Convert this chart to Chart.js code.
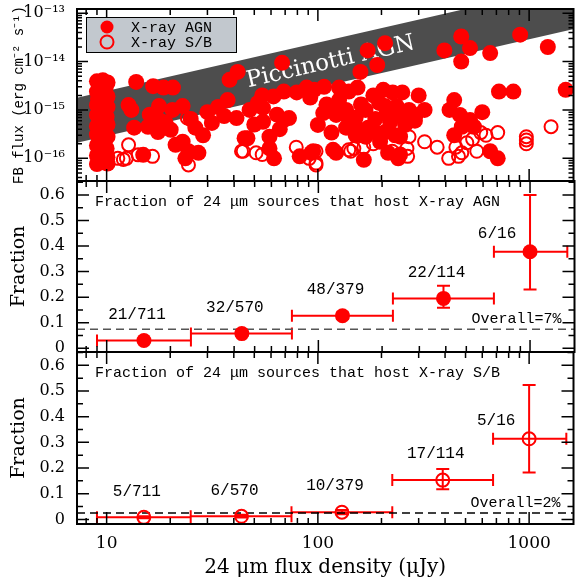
<!DOCTYPE html>
<html>
<head>
<meta charset="utf-8">
<script src="https://cdn.jsdelivr.net/npm/chart.js@4.4.0/dist/chart.umd.min.js"></script>
<style>
  html, body { margin: 0; padding: 0; background: #fff; }
  #wrap { position: relative; width: 582px; height: 585px; overflow: hidden; }
  #wrap canvas { position: absolute; left: 0; }
</style>
</head>
<body>
<div id="wrap">
  <canvas id="fluxChart" width="582" height="190" style="top:0"></canvas>
  <canvas id="agnChart" width="582" height="190" style="top:172px"></canvas>
  <canvas id="sbChart" width="582" height="242" style="top:343px"></canvas>
</div>
<script>
// axes
const xMin = 7.24, xMax = 1622;
const xTicks = [10, 100, 1000];
const xTickLabels = ['10', '100', '1000'];
const fluxMin = 3.4e-17, fluxMax = 1.22e-13;
const fluxTicks = [1e-16, 1e-15, 1e-14, 1e-13];
const fluxTickLabels = ['10\u207B\u00B9\u2076', '10\u207B\u00B9\u2075', '10\u207B\u00B9\u2074', '10\u207B\u00B9\u00B3'];
const fracTicks = [0, 0.1, 0.2, 0.3, 0.4, 0.5, 0.6];
const fracTickLabels = ['0', '0.1', '0.2', '0.3', '0.4', '0.5', '0.6'];

// 24um flux density (uJy) vs full band X-ray flux
const agnS24 = [
  9.0, 9.6, 10.1, 9.2, 9.9, 9.0, 9.7, 10.1, 9.1, 9.9, 9.0, 10.1, 9.4, 9.0, 10.0, 9.3,
  10.1, 9.0, 9.7, 9.0, 10.1, 9.3, 9.0, 10.0, 9.5, 9.0, 10.1, 9.2, 9.8, 9.0, 10.1, 9.5,
  13.8, 16.6, 18.6, 20.6, 12.7, 13.1, 17.7, 20.5, 22.9, 13.5, 15.7, 17.7, 17.5, 20.1,
  21.2, 22.9, 24.4, 23.6, 27.2, 26.3, 28.6, 31.5, 14.9, 38.2, 41.7, 33.7, 37.4, 41.2, 45,
  67.7, 54.5, 61.6, 69, 79.4, 88.4, 96, 107, 126, 140, 154, 183, 204, 226, 251,
  159, 191, 172, 208, 397, 477, 525, 477, 654, 907, 1226, 720, 842, 1490,
  300, 320, 270, 290, 442, 420, 470, 525, 600, 548, 480, 442, 654, 710,
  73, 106, 122, 116, 136, 151, 173, 215, 259, 208, 168, 122, 165, 82, 95, 215, 240,
  62, 59, 93, 118, 46.4, 55, 55, 59, 69, 143, 220, 197, 245, 245, 212, 47.5,
  126, 160, 110, 92, 195, 236, 140,
  110, 122, 136, 151, 168, 187, 208, 232, 259, 288, 100, 187, 232, 151,
  52, 64, 50, 66, 30, 36, 16, 19, 25
];
const agnFB = [
  3.9e-15, 4.1e-15, 3.7e-15, 3.1e-15, 2.9e-15, 2.4e-15, 2.2e-15, 1.9e-15, 1.7e-15, 1.5e-15, 1.25e-15, 1.15e-15, 9.5e-16, 7.8e-16, 7.2e-16, 5.9e-16,
  5.0e-16, 4.6e-16, 3.8e-16, 3.1e-16, 2.8e-16, 2.3e-16, 1.85e-16, 1.6e-16, 1.35e-16, 1.15e-16, 1.05e-16, 9.0e-17, 8.2e-17, 7.6e-17, 7.8e-17, 8.8e-17,
  3.8e-15, 3.1e-15, 2.9e-15, 2.9e-15, 1.26e-15, 1.0e-15, 1.2e-15, 1.0e-15, 1.2e-15, 4.3e-16, 4.5e-16, 6.2e-16, 3.5e-16, 3.9e-16,
  1.9e-16, 2.2e-16, 1.4e-16, 1.0e-16, 1.3e-16, 4.3e-16, 3.0e-16, 5.4e-16, 1.18e-16, 4.2e-15, 6.1e-15, 1.15e-15, 1.6e-15, 6.8e-16, 2.6e-16,
  9.4e-15, 2.0e-15, 1.9e-15, 2.4e-15, 2.3e-15, 2.9e-15, 2.6e-15, 3.0e-15, 2.9e-15, 2.4e-15, 2.9e-15, 2.0e-15, 2.6e-15, 2.3e-15, 2.3e-15,
  6.1e-15, 8.5e-15, 1.7e-14, 2.4e-14, 1.7e-14, 3.3e-14, 1.9e-14, 1.0e-14, 1.5e-14, 3.6e-14, 2.0e-14, 2.4e-15, 2.4e-15, 2.6e-15,
  2.0e-15, 1.0e-15, 1.0e-15, 7.9e-16, 1.6e-15, 1.0e-15, 7.9e-16, 6.2e-16, 9.0e-16, 4.5e-16, 4.5e-16, 3.0e-16, 1.4e-16, 1.0e-16,
  6.8e-16, 8.6e-16, 1.0e-15, 3.4e-16, 4.3e-16, 4.5e-16, 4.3e-16, 8.6e-16, 7.3e-16, 3.5e-16, 2.8e-16, 1.3e-16, 9.3e-17, 1.1e-16, 1.4e-16, 1.3e-16, 1.0e-16,
  1.0e-16, 1.6e-16, 1.3e-16, 1.5e-16, 2.6e-16, 5.7e-16, 1.1e-15, 2.8e-16, 6.2e-16, 4.9e-16, 5.6e-16, 2.2e-16, 1.2e-16, 2.8e-16, 9.0e-16, 1.0e-15,
  1.6e-15, 1.3e-15, 1.3e-15, 1.8e-15, 1.4e-15, 1.2e-15, 6.5e-16,
  1.26e-15, 7.9e-16, 1.0e-15, 7.0e-16, 1.0e-15, 6.5e-16, 1.2e-15, 7.9e-16, 4.9e-16, 6.0e-16, 4.9e-16, 3.5e-16, 3.0e-16, 3.0e-16,
  1.4e-15, 8.0e-16, 5.0e-16, 4.0e-16, 9.0e-16, 7.5e-16, 8.0e-16, 5.5e-16, 6.5e-16
];
const sbS24 = [
  12.7, 12.4, 12.0, 14.1, 24.1, 43.5, 24.4, 79, 98, 140, 270, 320, 367, 416, 463, 507,
  590, 625, 710, 970, 970, 970, 1270, 165, 266, 450, 565, 44.3, 54.5, 98, 98, 148,
  183, 51, 91, 143, 225, 264, 540, 480, 11.3, 16.5
];
const sbFB = [
  1.9e-16, 1.0e-16, 9.5e-17, 1.18e-16, 6.8e-16, 1.4e-16, 7.3e-17, 1.7e-16, 7.3e-17, 1.5e-16, 2.8e-16, 2.2e-16, 1.7e-16, 1.0e-16, 1.1e-16, 2.1e-16,
  3.4e-16, 3.0e-16, 3.4e-16, 2.8e-16, 2.4e-16, 2.0e-16, 4.5e-16, 1.7e-16, 1.1e-16, 1.7e-16, 1.4e-16, 1.4e-16, 1.2e-16, 1.4e-16, 8.0e-17, 1.6e-16,
  2.0e-16, 1.3e-16, 1.0e-16, 1.4e-16, 1.4e-16, 1.6e-16, 2.5e-16, 1.3e-16, 1.0e-16, 1.1e-16
];

// Piccinotti AGN locus: upper and lower edges
const bandS24 = [7, 1700];
const bandUpper = [1.72e-15, 4.17e-13];
const bandLower = [2.02e-16, 4.9e-14];

// binned fractions
const binMid = [15, 43.5, 130, 390, 1000];
const binLo = [9, 25, 75, 225, 675];
const binHi = [25, 75, 225, 675, 1500];
const agnFrac = [0.03, 0.057, 0.127, 0.195, 0.378];
const agnLo = [0.023, 0.048, 0.115, 0.158, 0.23];
const agnHi = [0.037, 0.066, 0.14, 0.245, 0.6];
const agnCounts = ['21/711', '32/570', '48/379', '22/114', '6/16'];
const agnOverall = 0.074;
const sbFrac = [0.008, 0.012, 0.028, 0.153, 0.314];
const sbLo = [0.004, 0.007, 0.02, 0.117, 0.183];
const sbHi = [0.012, 0.018, 0.037, 0.196, 0.523];
const sbCounts = ['5/711', '6/570', '10/379', '17/114', '5/16'];
const sbOverall = 0.025;

const red = '#ff0000';
const serif = 'DejaVu Serif';
const mono = 'Liberation Mono';

const pts = (xs, ys) => xs.map((x, i) => ({ x: x, y: ys[i] }));

function xAxis(height, labels) {
  const axis = {
    type: 'logarithmic', min: xMin, max: xMax,
    grid: { display: false, drawTicks: false },
    border: { display: false },
    afterBuildTicks: s => { s.ticks = xTicks.map(v => ({ value: v })); },
    ticks: {
      display: labels, autoSkip: false, maxRotation: 0, padding: 9, color: '#000',
      font: { family: serif, size: 17 },
      callback: (v, i) => xTickLabels[i]
    },
    afterFit: s => { s.height = height; s.paddingLeft = 0; s.paddingRight = 0; }
  };
  if (labels) {
    axis.title = {
      display: true, text: '24 \u03BCm flux density (\u03BCJy)', color: '#000',
      font: { family: serif, size: 20 }, padding: { top: 0, bottom: 5 }
    };
  }
  return axis;
}

function yAxis(opts, ticks, labels, title, titleFont, titlePad) {
  return Object.assign({
    grid: { display: false, drawTicks: false },
    border: { display: false },
    afterBuildTicks: s => { s.ticks = ticks.map(v => ({ value: v })); },
    ticks: {
      autoSkip: false, padding: 12, color: '#000',
      font: { family: serif, size: 16 },
      callback: (v, i) => labels[i]
    },
    title: { display: true, text: title, color: '#000', font: titleFont, padding: { top: titlePad, bottom: 0 } },
    afterFit: s => { s.width = 77; s.paddingTop = 0; s.paddingBottom = 0; }
  }, opts);
}

// box with inward ticks on all four sides
function frameTicks(yMarks) {
  return {
    id: 'frameTicks',
    afterDraw(chart) {
      const { ctx, chartArea: a, scales: { x, y } } = chart;
      ctx.save();
      ctx.strokeStyle = '#000';
      ctx.lineWidth = 1.5;
      ctx.beginPath();
      for (const d of [1, 10, 100, 1000]) {
        for (let m = 1; m <= 9; m++) {
          const v = d * m;
          if (v < x.min || v > x.max) continue;
          const px = x.getPixelForValue(v);
          const len = m === 1 ? 12 : 6;
          ctx.moveTo(px, a.bottom); ctx.lineTo(px, a.bottom - len);
          ctx.moveTo(px, a.top); ctx.lineTo(px, a.top + len);
        }
      }
      yMarks.forEach(([v, len]) => {
        if (v < y.min || v > y.max) return;
        const py = y.getPixelForValue(v);
        ctx.moveTo(a.left, py); ctx.lineTo(a.left + len, py);
        ctx.moveTo(a.right, py); ctx.lineTo(a.right - len, py);
      });
      ctx.stroke();
      ctx.lineWidth = 2;
      ctx.strokeRect(a.left, a.top, a.width, a.height);
      ctx.restore();
    }
  };
}

const fluxMarks = [];
[1e-17, 1e-16, 1e-15, 1e-14, 1e-13].forEach(d => {
  for (let m = 1; m <= 9; m++) fluxMarks.push([d * m, m === 1 ? 11 : 5]);
});
const fracMarks = [];
for (let i = 0; i <= 13; i++) fracMarks.push([i * 0.05, i % 2 === 0 ? 12 : 6]);

// label along the Piccinotti band
const bandLabel = {
  id: 'bandLabel',
  beforeDatasetsDraw(chart) {
    const { ctx, scales: { x, y } } = chart;
    const mid = i => Math.sqrt(bandUpper[i] * bandLower[i]);
    const x0 = x.getPixelForValue(bandS24[0]), y0 = y.getPixelForValue(mid(0));
    const x1 = x.getPixelForValue(bandS24[1]), y1 = y.getPixelForValue(mid(1));
    const ang = Math.atan2(y1 - y0, x1 - x0);
    const cx = x.getPixelForValue(115);
    const cy = y0 + (cx - x0) * Math.tan(ang);
    ctx.save();
    ctx.translate(cx, cy);
    ctx.rotate(ang);
    ctx.font = '19px "DejaVu Serif"';
    const w = ctx.measureText('Piccinotti AGN').width;
    ctx.font = (19 * 172 / w).toFixed(1) + 'px "DejaVu Serif"';
    ctx.fillStyle = '#fff';
    ctx.textAlign = 'center';
    ctx.textBaseline = 'middle';
    ctx.fillText('Piccinotti AGN', 0, 0);
    ctx.restore();
  }
};

const legendBox = {
  id: 'legendBox',
  afterDraw(chart) {
    const { ctx } = chart;
    const items = [chart.data.datasets[2], chart.data.datasets[3]];
    ctx.save();
    ctx.fillStyle = '#c2c8ce';
    ctx.strokeStyle = '#000';
    ctx.lineWidth = 1;
    ctx.fillRect(86, 17, 150, 35);
    ctx.strokeRect(86.5, 17.5, 150, 35);
    ctx.font = '15px "' + mono + '"';
    ctx.textBaseline = 'middle';
    items.forEach((ds, i) => {
      const yy = 27 + i * 15;
      ctx.beginPath();
      ctx.arc(107, yy, 6.5, 0, Math.PI * 2);
      if (ds.pointBorderWidth) {
        ctx.lineWidth = 2;
        ctx.strokeStyle = ds.pointBorderColor;
        ctx.stroke();
      } else {
        ctx.fillStyle = ds.pointBackgroundColor;
        ctx.fill();
      }
      ctx.fillStyle = '#000';
      ctx.fillText(ds.label, 131, yy + 1);
    });
    ctx.restore();
  }
};

function errorBars(frac, lo, hi) {
  return {
    id: 'errorBars',
    beforeDatasetsDraw(chart) {
      const { ctx, scales: { x, y } } = chart;
      ctx.save();
      ctx.strokeStyle = red;
      ctx.lineWidth = 2;
      ctx.beginPath();
      binMid.forEach((m, i) => {
        const px = x.getPixelForValue(m), py = y.getPixelForValue(frac[i]);
        const x0 = x.getPixelForValue(binLo[i]), x1 = x.getPixelForValue(binHi[i]);
        const y0 = y.getPixelForValue(lo[i]), y1 = y.getPixelForValue(hi[i]);
        ctx.moveTo(x0, py); ctx.lineTo(x1, py);
        ctx.moveTo(x0, py - 6); ctx.lineTo(x0, py + 6);
        ctx.moveTo(x1, py - 6); ctx.lineTo(x1, py + 6);
        ctx.moveTo(px, y0); ctx.lineTo(px, y1);
        ctx.moveTo(px - 6.5, y0); ctx.lineTo(px + 6.5, y0);
        ctx.moveTo(px - 6.5, y1); ctx.lineTo(px + 6.5, y1);
      });
      ctx.stroke();
      ctx.restore();
    }
  };
}

function panelText(frac, hi, counts, header, overall, overallText) {
  return {
    id: 'panelText',
    afterDatasetsDraw(chart) {
      const { ctx, chartArea: a, scales: { x, y } } = chart;
      ctx.save();
      ctx.fillStyle = '#000';
      ctx.textBaseline = 'middle';
      ctx.font = '15px "' + mono + '"';
      ctx.fillText(header, a.left + 18, a.top + 21);
      ctx.textAlign = 'right';
      ctx.fillText(overallText, a.right - 13, y.getPixelForValue(overall) - 10);
      ctx.textAlign = 'center';
      ctx.font = '16px "' + mono + '"';
      binMid.forEach((m, i) => {
        const px = x.getPixelForValue(m), py = y.getPixelForValue(frac[i]);
        const top = y.getPixelForValue(hi[i]);
        if (py - top > 30) ctx.fillText(counts[i], px - 33, py - 18);
        else ctx.fillText(counts[i], px - 7, py - 26);
      });
      ctx.restore();
    }
  };
}

const common = {
  responsive: false,
  animation: false,
  devicePixelRatio: 1,
  events: [],
  plugins: { legend: { display: false }, tooltip: { enabled: false }, filler: { drawTime: 'beforeDatasetsDraw' } }
};

new Chart(document.getElementById('fluxChart'), {
  type: 'scatter',
  data: {
    datasets: [
      { label: 'band upper', data: pts(bandS24, bandUpper), showLine: true, fill: '+1', borderWidth: 0,
        backgroundColor: '#4d4d4d', pointRadius: 0, order: 5 },
      { label: 'band lower', data: pts(bandS24, bandLower), showLine: true, borderWidth: 0, pointRadius: 0, order: 4 },
      { label: 'X-ray AGN', data: pts(agnS24, agnFB), pointRadius: 8, pointBorderWidth: 0,
        pointBackgroundColor: red, pointBorderColor: red, order: 2 },
      { label: 'X-ray S/B', data: pts(sbS24, sbFB), pointRadius: 6.5, pointBorderWidth: 2,
        pointBackgroundColor: 'rgba(0,0,0,0)', pointBorderColor: red, order: 1 }
    ]
  },
  options: Object.assign({}, common, {
    layout: { padding: { top: 9, right: 1, left: 0, bottom: 0 } },
    scales: {
      x: xAxis(9, false),
      y: yAxis({ type: 'logarithmic', min: fluxMin, max: fluxMax }, fluxTicks, fluxTickLabels,
        'FB flux (erg cm\u207B\u00B2 s\u207B\u00B9)', { family: mono, size: 14 }, 11)
    }
  }),
  plugins: [bandLabel, frameTicks(fluxMarks), legendBox]
});

function fractionChart(id, frac, lo, hi, counts, marker, header, overall, overallText, dashColor, bottomHeight, yMin, yMax) {
  const open = marker === 'open';
  new Chart(document.getElementById(id), {
    type: 'scatter',
    data: {
      datasets: [
        { label: 'fraction', data: pts(binMid, frac), pointRadius: open ? 6.5 : 7.5,
          pointBorderWidth: open ? 2 : 0, pointBorderColor: red,
          pointBackgroundColor: open ? 'rgba(0,0,0,0)' : red, order: 1 },
        { label: 'overall', data: pts([xMin, xMax], [overall, overall]), showLine: true,
          borderColor: dashColor, borderWidth: 1.5, borderDash: [8, 5], pointRadius: 0, order: 2 }
      ]
    },
    options: Object.assign({}, common, {
      layout: { padding: { top: 9, right: 1, left: 0, bottom: 0 } },
      scales: {
        x: xAxis(bottomHeight, bottomHeight > 20),
        y: yAxis({ type: 'linear', min: yMin, max: yMax }, fracTicks, fracTickLabels,
          'Fraction', { family: serif, size: 19 }, 8)
      }
    }),
    plugins: [errorBars(frac, lo, hi), frameTicks(fracMarks), panelText(frac, hi, counts, header, overall, overallText)]
  });
}

fractionChart('agnChart', agnFrac, agnLo, agnHi, agnCounts, 'filled',
  'Fraction of 24 \u03BCm sources that host X-ray AGN', agnOverall, 'Overall=7%', '#555', 10, -0.015, 0.655);
fractionChart('sbChart', sbFrac, sbLo, sbHi, sbCounts, 'open',
  'Fraction of 24 \u03BCm sources that host X-ray S/B', sbOverall, 'Overall=2%', '#000', 61, -0.018, 0.652);
</script>
</body>
</html>
